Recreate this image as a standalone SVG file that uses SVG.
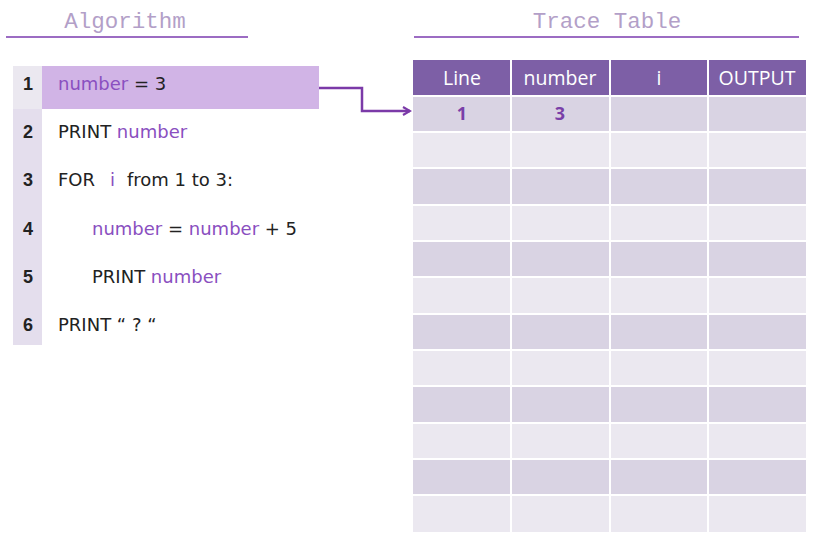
<svg xmlns="http://www.w3.org/2000/svg" width="818" height="540" viewBox="0 0 818 540">
<style>
.title{font-family:"Liberation Mono","DejaVu Sans Mono",monospace;font-size:22.5px;fill:#b39fc8;text-anchor:middle}
.rule{stroke:#9c6cc3;stroke-width:2}
.ln{font-family:"Liberation Sans",Arial,sans-serif;font-size:18px;font-weight:bold;fill:#222;text-anchor:middle}
.code{font-family:"DejaVu Sans","Liberation Sans",sans-serif;font-size:18px;fill:#222}
.v{fill:#8a4fc0}
.hd{fill:#7d5fa6}
.hdt{font-family:"Open Sans","Liberation Sans",sans-serif;font-size:19.5px;fill:#ffffff;text-anchor:middle}
.dk{fill:#d9d3e3}
.lt{fill:#ebe8f0}
.val{font-family:"Open Sans","Liberation Sans",sans-serif;font-size:18px;font-weight:bold;fill:#7a3fa8;text-anchor:middle}
.conn{fill:none;stroke:#7b3aa8;stroke-width:2.5}
</style>
<defs>
<marker id="ah" markerWidth="10" markerHeight="10" refX="8" refY="5" orient="auto" markerUnits="userSpaceOnUse">
<path d="M1,1 L8,5 L1,9" fill="none" stroke="#7b3aa8" stroke-width="2.2"/>
</marker>
</defs>
<rect width="818" height="540" fill="#ffffff"/>
<g id="algorithm-title">
<text class="title" x="125" y="28">Algorithm</text>
<line class="rule" x1="6" y1="37" x2="248" y2="37"/>
</g>
<g id="trace-title">
<text class="title" x="607" y="28">Trace Table</text>
<line class="rule" x1="414" y1="37" x2="799" y2="37"/>
</g>
<g id="algorithm">
<rect x="13" y="66" width="29" height="279" fill="#e4deed"/>
<rect x="13" y="66" width="29" height="43" fill="#ebe8f0"/>
<rect x="42" y="66" width="277" height="43" fill="#d1b4e6"/>
<g id="line1"><text class="ln" x="28" y="90">1</text><text class="code" x="58" y="90"><tspan class="v">number</tspan> = 3</text></g>
<g id="line2"><text class="ln" x="28" y="138">2</text><text class="code" x="58" y="138">PRINT <tspan class="v">number</tspan></text></g>
<g id="line3"><text class="ln" x="28" y="186">3</text><text class="code" x="58" y="186">FOR<tspan class="v" x="110">i</tspan><tspan x="127">from 1 to 3:</tspan></text></g>
<g id="line4"><text class="ln" x="28" y="235">4</text><text class="code" x="92" y="235"><tspan class="v">number</tspan> = <tspan class="v">number</tspan> + 5</text></g>
<g id="line5"><text class="ln" x="28" y="283">5</text><text class="code" x="92" y="283">PRINT <tspan class="v">number</tspan></text></g>
<g id="line6"><text class="ln" x="28" y="331">6</text><text class="code" x="58" y="331">PRINT “ ? “</text></g>
</g>
<g id="trace-table">
<g id="header">
<rect class="hd" x="413" y="60" width="97" height="35"/>
<rect class="hd" x="512" y="60" width="97" height="35"/>
<rect class="hd" x="611" y="60" width="96" height="35"/>
<rect class="hd" x="709" y="60" width="97" height="35"/>
<text class="hdt" x="462" y="85">Line</text>
<text class="hdt" x="560" y="85">number</text>
<text class="hdt" x="659" y="85">i</text>
<text class="hdt" x="757" y="85">OUTPUT</text>
</g>
<g id="rows">
<g class="dk"><rect x="413" y="97" width="97" height="34"/><rect x="512" y="97" width="97" height="34"/><rect x="611" y="97" width="96" height="34"/><rect x="709" y="97" width="97" height="34"/></g>
<g class="lt"><rect x="413" y="133" width="97" height="34"/><rect x="512" y="133" width="97" height="34"/><rect x="611" y="133" width="96" height="34"/><rect x="709" y="133" width="97" height="34"/></g>
<g class="dk"><rect x="413" y="169" width="97" height="35"/><rect x="512" y="169" width="97" height="35"/><rect x="611" y="169" width="96" height="35"/><rect x="709" y="169" width="97" height="35"/></g>
<g class="lt"><rect x="413" y="206" width="97" height="34"/><rect x="512" y="206" width="97" height="34"/><rect x="611" y="206" width="96" height="34"/><rect x="709" y="206" width="97" height="34"/></g>
<g class="dk"><rect x="413" y="242" width="97" height="34"/><rect x="512" y="242" width="97" height="34"/><rect x="611" y="242" width="96" height="34"/><rect x="709" y="242" width="97" height="34"/></g>
<g class="lt"><rect x="413" y="278" width="97" height="35"/><rect x="512" y="278" width="97" height="35"/><rect x="611" y="278" width="96" height="35"/><rect x="709" y="278" width="97" height="35"/></g>
<g class="dk"><rect x="413" y="315" width="97" height="34"/><rect x="512" y="315" width="97" height="34"/><rect x="611" y="315" width="96" height="34"/><rect x="709" y="315" width="97" height="34"/></g>
<g class="lt"><rect x="413" y="351" width="97" height="34"/><rect x="512" y="351" width="97" height="34"/><rect x="611" y="351" width="96" height="34"/><rect x="709" y="351" width="97" height="34"/></g>
<g class="dk"><rect x="413" y="387" width="97" height="35"/><rect x="512" y="387" width="97" height="35"/><rect x="611" y="387" width="96" height="35"/><rect x="709" y="387" width="97" height="35"/></g>
<g class="lt"><rect x="413" y="424" width="97" height="34"/><rect x="512" y="424" width="97" height="34"/><rect x="611" y="424" width="96" height="34"/><rect x="709" y="424" width="97" height="34"/></g>
<g class="dk"><rect x="413" y="460" width="97" height="34"/><rect x="512" y="460" width="97" height="34"/><rect x="611" y="460" width="96" height="34"/><rect x="709" y="460" width="97" height="34"/></g>
<g class="lt"><rect x="413" y="496" width="97" height="36"/><rect x="512" y="496" width="97" height="36"/><rect x="611" y="496" width="96" height="36"/><rect x="709" y="496" width="97" height="36"/></g>
</g>
<text class="val" x="462" y="120">1</text>
<text class="val" x="560" y="120">3</text>
</g>
<g id="connectors">
<path class="conn" d="M319,88 H362 V111 H410" marker-end="url(#ah)"/>
</g>
</svg>
